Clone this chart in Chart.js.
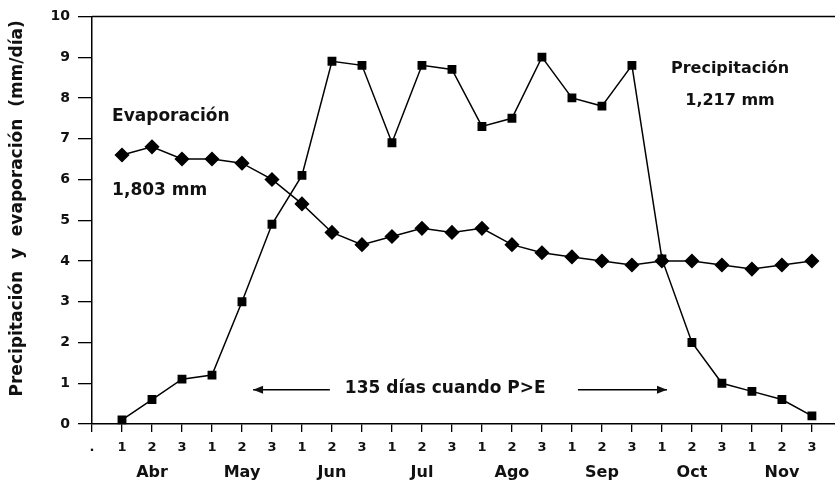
<!DOCTYPE html>
<html><head><meta charset="utf-8">
<script src="https://cdn.jsdelivr.net/npm/chart.js@4/dist/chart.umd.min.js"></script>
<style>html,body{margin:0;padding:0;background:#fff}#wrap{width:835px;height:482px}</style>
</head><body><div id="wrap"><canvas id="c" width="835" height="482"></canvas></div>
<script>
const decadeLabels = ['.', '1','2','3','1','2','3','1','2','3','1','2','3','1','2','3','1','2','3','1','2','3','1','2','3'];
const monthLabels  = ['', '','Abr','','','May','','','Jun','','','Jul','','','Ago','','','Sep','','','Oct','','','Nov',''];
const periods = [1,2,3,4,5,6,7,8,9,10,11,12,13,14,15,16,17,18,19,20,21,22,23,24];
const evaporacion = [6.6,6.8,6.5,6.5,6.4,6.0,5.4,4.7,4.4,4.6,4.8,4.7,4.8,4.4,4.2,4.1,4.0,3.9,4.0,4.0,3.9,3.8,3.9,4.0];
const precipitacion = [0.1,0.6,1.1,1.2,3.0,4.9,6.1,8.9,8.8,6.9,8.8,8.7,7.3,7.5,9.0,8.0,7.8,8.8,4.05,2.0,1.0,0.8,0.6,0.2];
const yTicks = [0,1,2,3,4,5,6,7,8,9,10];

const FONT = '"DejaVu Sans", "Liberation Sans", Arial, sans-serif';

const annot = {
  id: 'annot',
  afterDraw(chart) {
    const ctx = chart.ctx, x = chart.scales.x, y = chart.scales.y, a = chart.chartArea;
    ctx.save();
    ctx.strokeStyle = '#000'; ctx.lineWidth = 1.5;
    ctx.beginPath(); ctx.moveTo(a.left, a.top); ctx.lineTo(a.right, a.top); ctx.stroke();
    ctx.fillStyle = '#111';
    ctx.textBaseline = 'middle';
    ctx.textAlign = 'left';
    ctx.font = 'bold 17px ' + FONT;
    ctx.fillText('Evaporación', x.getPixelForValue(0.67), y.getPixelForValue(7.54));
    ctx.fillText('1,803 mm', x.getPixelForValue(0.67), y.getPixelForValue(5.72));
    ctx.textAlign = 'center';
    ctx.font = 'bold 16px ' + FONT;
    ctx.fillText('Precipitación', x.getPixelForValue(21.27), y.getPixelForValue(8.72));
    ctx.fillText('1,217 mm', x.getPixelForValue(21.27), y.getPixelForValue(7.94));
    ctx.textAlign = 'left';
    ctx.font = 'bold 17px ' + FONT;
    ctx.fillText('135 días cuando P>E', x.getPixelForValue(8.43), y.getPixelForValue(0.86));
    const ay = y.getPixelForValue(0.84);
    function arrow(x0, x1) {
      ctx.beginPath(); ctx.moveTo(x0, ay); ctx.lineTo(x1, ay); ctx.stroke();
      const d = x1 > x0 ? -1 : 1;
      ctx.beginPath(); ctx.moveTo(x1, ay); ctx.lineTo(x1 + d*10, ay - 4); ctx.lineTo(x1 + d*10, ay + 4); ctx.closePath(); ctx.fill();
    }
    ctx.lineWidth = 1.3;
    arrow(x.getPixelForValue(7.93), x.getPixelForValue(5.37));
    arrow(x.getPixelForValue(16.2), x.getPixelForValue(19.17));
    ctx.restore();
  }
};

function noPad(s) { s.paddingLeft = 0; s.paddingRight = 0; }

new Chart(document.getElementById('c'), {
  type: 'line',
  data: {
    datasets: [
      { label: 'Precipitación', data: periods.map((p,i)=>({x:p, y:precipitacion[i]})),
        borderColor: '#000', backgroundColor: '#000', borderWidth: 1.5,
        pointStyle: 'rect', pointRadius: 5.2, pointHoverRadius: 5.2, tension: 0, clip: false },
      { label: 'Evaporación', data: periods.map((p,i)=>({x:p, y:evaporacion[i]})),
        borderColor: '#000', backgroundColor: '#000', borderWidth: 1.5,
        pointStyle: 'rectRot', pointRadius: 6.5, pointHoverRadius: 6.5, tension: 0, clip: false }
    ]
  },
  options: {
    responsive: false, animation: false,
    layout: { autoPadding: false, padding: { top: 16, right: 0, left: 0, bottom: 0 } },
    plugins: { legend: { display: false }, tooltip: { enabled: false } },
    scales: {
      x: {
        type: 'linear', min: 0, max: 24.77, position: 'bottom',
        afterBuildTicks: s => { s.ticks = decadeLabels.map((_, i) => ({ value: i })); },
        afterFit: s => { s.height = 34; noPad(s); },
        ticks: { autoSkip: false, maxRotation: 0, color: '#111', padding: 8,
          font: { family: FONT, size: 13, weight: 'bold' },
          callback: (v) => decadeLabels[v] },
        grid: { drawOnChartArea: false, drawTicks: true, tickLength: 8, color: '#000', lineWidth: 1.3 },
        border: { display: true, color: '#000', width: 1.5 }
      },
      x2: {
        type: 'linear', min: 0, max: 24.77, position: 'bottom',
        afterBuildTicks: s => { s.ticks = monthLabels.map((_, i) => ({ value: i })); },
        afterFit: s => { s.height = 24; noPad(s); },
        ticks: { autoSkip: false, maxRotation: 0, color: '#111', padding: 5,
          font: { family: FONT, size: 16, weight: 'bold' },
          callback: (v) => monthLabels[v] },
        grid: { display: false, drawTicks: false },
        border: { display: false }
      },
      y: {
        min: 0, max: 10,
        afterBuildTicks: s => { s.ticks = yTicks.map(v => ({ value: v })); },
        afterFit: s => { s.width = 92; },
        ticks: { color: '#111', padding: 8, font: { family: FONT, size: 14, weight: 'bold' } },
        grid: { drawOnChartArea: false, drawTicks: true, tickLength: 14, color: '#000', lineWidth: 1.3 },
        border: { display: true, color: '#000', width: 1.5 },
        title: { display: true, text: '    Precipitación  y  evaporación  (mm/día)', color: '#111',
          font: { family: FONT, size: 17, weight: 'bold' }, padding: { top: 7, bottom: 0 } }
      }
    }
  },
  plugins: [annot]
});
</script></body></html>
